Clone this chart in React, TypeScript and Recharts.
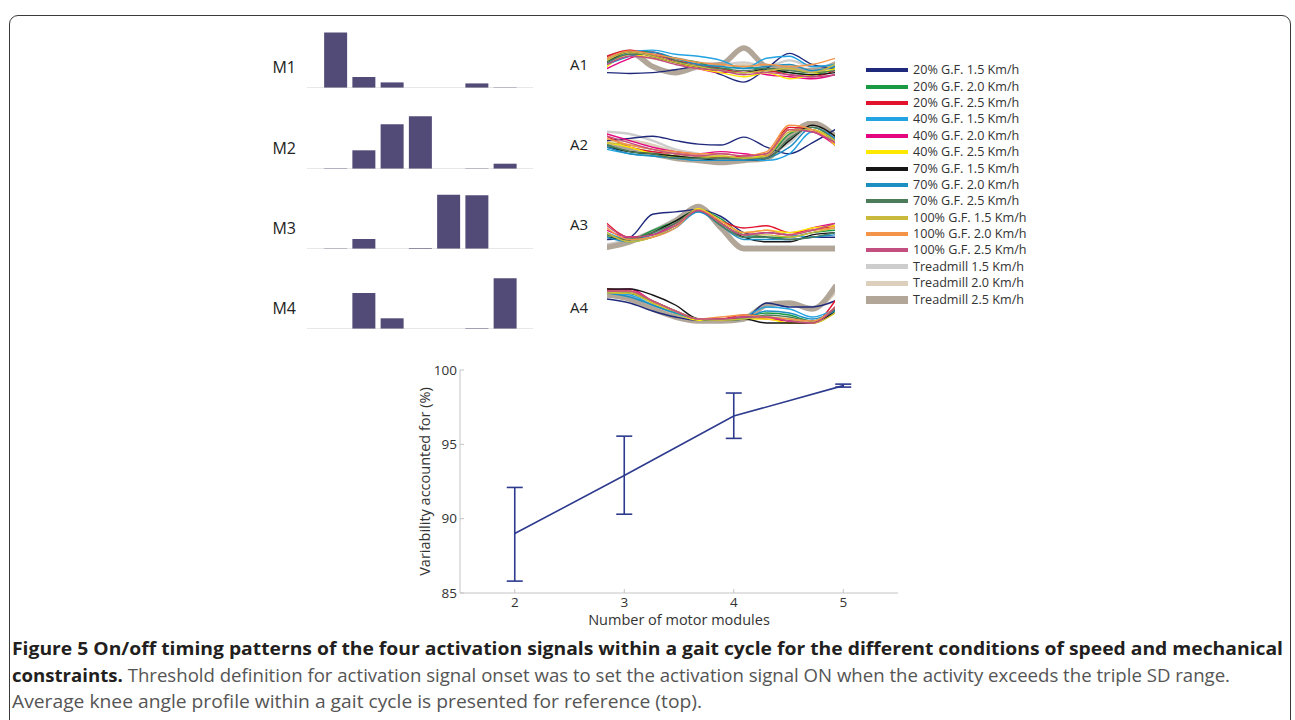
import React from 'react';
import {
  BarChart, Bar, LineChart, Line, XAxis, YAxis, ReferenceLine, ErrorBar,
} from 'recharts';

const FONT = '"Open Sans", "DejaVu Sans", sans-serif';

// motor module weights (one value per muscle, read as bar heights)
const MUSCLE_POS = [1, 2, 3, 4, 5, 6, 7];
const M1 = [55.6, 11, 5.6, 0, 0, 4.6, 0.5];
const M2 = [0.6, 18.7, 44.7, 52.7, 0, 0.5, 5.3];
const M3 = [0.5, 10, 0, 1, 54.3, 53.7, 0];
const M4 = [0, 36, 10.7, 0, 0, 0.8, 50.7];

// conditions
const CONDITIONS = [
  '20% G.F. 1.5 Km/h', '20% G.F. 2.0 Km/h', '20% G.F. 2.5 Km/h',
  '40% G.F. 1.5 Km/h', '40% G.F. 2.0 Km/h', '40% G.F. 2.5 Km/h',
  '70% G.F. 1.5 Km/h', '70% G.F. 2.0 Km/h', '70% G.F. 2.5 Km/h',
  '100% G.F. 1.5 Km/h', '100% G.F. 2.0 Km/h', '100% G.F. 2.5 Km/h',
  'Treadmill 1.5 Km/h', 'Treadmill 2.0 Km/h', 'Treadmill 2.5 Km/h',
];
const COLORS = [
  '#1f2a7c', '#1a9a42', '#e3122c', '#22a3e2', '#e4067f', '#fde800',
  '#161616', '#1d8ec2', '#4d7c5a', '#c9ba3e', '#f39448', '#c24f80',
  '#cdcdcd', '#dccfbb', '#b1a698',
];
const WIDTHS = [1.4, 1.4, 1.4, 1.4, 1.4, 1.4, 1.4, 1.4, 1.4, 1.4, 1.4, 1.4, 2.4, 2.8, 5.5];
const SWATCH_H = [4, 4, 4, 4, 4, 4, 4, 4, 4, 4, 4, 4, 5, 5, 8];

// gait cycle sample points (%)
const GAIT = [0, 10, 20, 30, 40, 50, 60, 70, 80, 90, 100];

const A1 = [
  [0.35, 0.33, 0.35, 0.42, 0.5, 0.3, 0.12, 0.45, 0.82, 0.55, 0.45],
  [0.6, 0.88, 0.85, 0.7, 0.6, 0.45, 0.5, 0.4, 0.35, 0.3, 0.45],
  [0.75, 0.9, 0.8, 0.65, 0.55, 0.45, 0.35, 0.4, 0.3, 0.25, 0.4],
  [0.55, 0.85, 0.9, 0.8, 0.75, 0.65, 0.45, 0.7, 0.75, 0.5, 0.55],
  [0.45, 0.7, 0.85, 0.6, 0.45, 0.35, 0.4, 0.3, 0.25, 0.2, 0.3],
  [0.5, 0.8, 0.7, 0.6, 0.45, 0.35, 0.25, 0.35, 0.2, 0.3, 0.45],
  [0.6, 0.85, 0.75, 0.6, 0.5, 0.4, 0.35, 0.45, 0.35, 0.3, 0.35],
  [0.55, 0.75, 0.85, 0.7, 0.55, 0.5, 0.45, 0.5, 0.55, 0.4, 0.5],
  [0.6, 0.8, 0.8, 0.65, 0.5, 0.45, 0.4, 0.45, 0.4, 0.35, 0.4],
  [0.65, 0.85, 0.75, 0.6, 0.5, 0.4, 0.35, 0.4, 0.45, 0.35, 0.55],
  [0.7, 0.88, 0.8, 0.7, 0.6, 0.55, 0.5, 0.55, 0.5, 0.55, 0.7],
  [0.55, 0.75, 0.7, 0.55, 0.45, 0.4, 0.3, 0.35, 0.3, 0.25, 0.3],
  [0.65, 0.85, 0.75, 0.7, 0.6, 0.55, 0.6, 0.5, 0.65, 0.5, 0.5],
  [0.7, 0.8, 0.7, 0.6, 0.55, 0.45, 0.55, 0.45, 0.5, 0.4, 0.6],
  [0.7, 0.85, 0.5, 0.35, 0.5, 0.55, 0.95, 0.5, 0.45, 0.4, 0.55],
];
const A2 = [
  [0.6, 0.65, 0.7, 0.6, 0.52, 0.5, 0.68, 0.45, 0.3, 0.55, 0.85],
  [0.5, 0.35, 0.3, 0.25, 0.2, 0.2, 0.2, 0.25, 0.75, 0.9, 0.6],
  [0.7, 0.45, 0.35, 0.3, 0.25, 0.2, 0.25, 0.3, 0.9, 0.85, 0.55],
  [0.4, 0.3, 0.25, 0.2, 0.15, 0.15, 0.15, 0.15, 0.3, 0.8, 0.6],
  [0.75, 0.6, 0.45, 0.35, 0.3, 0.35, 0.3, 0.25, 0.85, 0.8, 0.5],
  [0.55, 0.45, 0.3, 0.25, 0.2, 0.25, 0.2, 0.3, 0.85, 0.85, 0.5],
  [0.45, 0.35, 0.3, 0.25, 0.2, 0.15, 0.15, 0.2, 0.6, 0.95, 0.7],
  [0.45, 0.3, 0.25, 0.2, 0.15, 0.15, 0.15, 0.2, 0.45, 0.9, 0.65],
  [0.5, 0.35, 0.3, 0.2, 0.2, 0.2, 0.2, 0.2, 0.65, 0.9, 0.6],
  [0.55, 0.5, 0.4, 0.3, 0.25, 0.25, 0.2, 0.25, 0.8, 0.85, 0.6],
  [0.65, 0.5, 0.4, 0.35, 0.3, 0.3, 0.25, 0.35, 0.95, 0.85, 0.55],
  [0.7, 0.55, 0.4, 0.3, 0.25, 0.3, 0.25, 0.3, 0.85, 0.8, 0.55],
  [0.8, 0.75, 0.6, 0.4, 0.3, 0.2, 0.2, 0.25, 0.55, 0.95, 0.5],
  [0.6, 0.6, 0.5, 0.35, 0.25, 0.15, 0.2, 0.25, 0.7, 0.95, 0.6],
  [0.5, 0.4, 0.3, 0.2, 0.15, 0.1, 0.15, 0.2, 0.7, 1.0, 0.7],
];
const A3 = [
  [0.25, 0.3, 0.8, 0.85, 0.9, 0.75, 0.4, 0.3, 0.25, 0.3, 0.3],
  [0.35, 0.25, 0.45, 0.65, 0.9, 0.7, 0.35, 0.3, 0.3, 0.4, 0.45],
  [0.6, 0.3, 0.35, 0.55, 0.9, 0.65, 0.5, 0.55, 0.4, 0.45, 0.55],
  [0.4, 0.25, 0.35, 0.55, 0.85, 0.6, 0.3, 0.4, 0.35, 0.3, 0.4],
  [0.45, 0.3, 0.35, 0.6, 0.9, 0.6, 0.35, 0.4, 0.35, 0.5, 0.6],
  [0.35, 0.2, 0.3, 0.55, 0.92, 0.65, 0.4, 0.45, 0.4, 0.5, 0.55],
  [0.3, 0.25, 0.4, 0.65, 0.88, 0.6, 0.3, 0.2, 0.2, 0.35, 0.4],
  [0.3, 0.2, 0.3, 0.5, 0.85, 0.55, 0.25, 0.25, 0.25, 0.3, 0.35],
  [0.35, 0.25, 0.4, 0.6, 0.9, 0.55, 0.3, 0.3, 0.25, 0.3, 0.4],
  [0.4, 0.2, 0.3, 0.55, 0.9, 0.6, 0.35, 0.35, 0.3, 0.4, 0.5],
  [0.5, 0.25, 0.3, 0.5, 0.9, 0.65, 0.4, 0.45, 0.35, 0.45, 0.5],
  [0.55, 0.3, 0.35, 0.55, 0.88, 0.6, 0.35, 0.4, 0.35, 0.45, 0.6],
  [0.15, 0.25, 0.45, 0.7, 0.95, 0.55, 0.1, 0.1, 0.1, 0.1, 0.1],
  [0.12, 0.2, 0.4, 0.65, 0.95, 0.5, 0.08, 0.08, 0.08, 0.08, 0.08],
  [0.08, 0.2, 0.4, 0.65, 0.97, 0.5, 0.05, 0.05, 0.05, 0.05, 0.05],
];
const A4 = [
  [0.65, 0.55, 0.35, 0.2, 0.12, 0.12, 0.15, 0.55, 0.45, 0.45, 0.6],
  [0.85, 0.8, 0.55, 0.3, 0.15, 0.15, 0.2, 0.3, 0.25, 0.1, 0.35],
  [0.9, 0.85, 0.6, 0.35, 0.15, 0.15, 0.25, 0.2, 0.1, 0.05, 0.6],
  [0.8, 0.75, 0.5, 0.3, 0.15, 0.12, 0.2, 0.45, 0.4, 0.2, 0.4],
  [0.85, 0.9, 0.6, 0.35, 0.15, 0.12, 0.2, 0.15, 0.1, 0.05, 0.4],
  [0.8, 0.8, 0.55, 0.3, 0.12, 0.12, 0.15, 0.15, 0.05, 0.05, 0.3],
  [0.9, 0.9, 0.75, 0.5, 0.15, 0.12, 0.15, 0.05, 0.05, 0.05, 0.35],
  [0.8, 0.7, 0.5, 0.3, 0.15, 0.12, 0.15, 0.35, 0.3, 0.15, 0.35],
  [0.85, 0.8, 0.6, 0.35, 0.15, 0.12, 0.15, 0.25, 0.2, 0.1, 0.4],
  [0.8, 0.8, 0.55, 0.35, 0.15, 0.12, 0.15, 0.2, 0.15, 0.05, 0.3],
  [0.85, 0.85, 0.6, 0.35, 0.15, 0.2, 0.25, 0.2, 0.15, 0.1, 0.45],
  [0.85, 0.85, 0.6, 0.35, 0.15, 0.15, 0.2, 0.2, 0.1, 0.05, 0.45],
  [0.85, 0.75, 0.5, 0.3, 0.15, 0.12, 0.2, 0.5, 0.55, 0.45, 0.6],
  [0.8, 0.7, 0.45, 0.25, 0.12, 0.1, 0.2, 0.5, 0.55, 0.4, 0.8],
  [0.75, 0.65, 0.4, 0.2, 0.1, 0.1, 0.15, 0.5, 0.55, 0.4, 0.95],
];

// VAF vs number of modules
const MODULES = [2, 3, 4, 5];
const VAF_MEAN = [89, 92.9, 96.9, 98.95];
const VAF_LOW = [85.8, 90.3, 95.4, 98.85];
const VAF_HIGH = [92.1, 95.55, 98.45, 99.05];

const DRAW_ORDER = [12, 13, 14, 0, 1, 2, 3, 4, 5, 6, 7, 8, 9, 10, 11];

function ModuleBars({ label, values, baseline }: { label: string; values: number[]; baseline: number }) {
  const data = MUSCLE_POS.map((x, i) => ({ x, w: values[i] }));
  return (
    <>
      <div style={{ position: 'absolute', left: 256, width: 40, top: baseline - 32, textAlign: 'right', fontSize: 16, color: '#222', fontFamily: FONT }}>{label}</div>
      <div style={{ position: 'absolute', left: 307, top: baseline - 62 }}>
        <BarChart width={226} height={62} data={data} margin={{ top: 0, right: 0, bottom: 0, left: 0 }}>
          <XAxis dataKey="x" type="number" domain={[0, 8]} hide />
          <YAxis domain={[0, 62]} hide />
          <ReferenceLine y={0} stroke="#cfcfcf" strokeWidth={1.2} />
          <Bar dataKey="w" fill="#534b77" barSize={23} isAnimationActive={false} />
        </BarChart>
      </div>
    </>
  );
}

function ActivationPanel({ label, values, top, height, labelY }: { label: string; values: number[][]; top: number; height: number; labelY: number }) {
  const data = GAIT.map((g, i) => {
    const row: any = { g };
    values.forEach((s, k) => { row['s' + k] = s[i]; });
    return row;
  });
  return (
    <>
      <div style={{ position: 'absolute', left: 556, width: 32, top: labelY - 11, textAlign: 'right', fontSize: 15, color: '#222', fontFamily: FONT }}>{label}</div>
      <div style={{ position: 'absolute', left: 607, top }}>
        <LineChart width={228} height={height} data={data} margin={{ top: 2, right: 0, bottom: 2, left: 0 }}>
          <XAxis dataKey="g" type="number" domain={[0, 100]} hide />
          <YAxis domain={[0, 1]} hide />
          {DRAW_ORDER.map(k => (
            <Line key={k} dataKey={'s' + k} type="monotone" stroke={COLORS[k]} strokeWidth={WIDTHS[k]}
              dot={false} isAnimationActive={false} strokeLinecap="round" />
          ))}
        </LineChart>
      </div>
    </>
  );
}

export default function App() {
  const vafData = MODULES.map((n, i) => ({
    n, mean: VAF_MEAN[i], err: [VAF_MEAN[i] - VAF_LOW[i], VAF_HIGH[i] - VAF_MEAN[i]],
  }));
  const frame = '#c4c4c4';
  return (
    <div style={{ position: 'absolute', left: 0, top: 0, width: 1295, height: 720, overflow: 'hidden', background: '#fff', fontFamily: FONT }}>
      <div style={{ position: 'absolute', left: 9, top: 15, width: 1282, height: 760, border: '1.6px solid #3a3a3a', borderRadius: 9, boxSizing: 'border-box' }} />

      <ModuleBars label="M1" values={M1} baseline={88} />
      <ModuleBars label="M2" values={M2} baseline={169} />
      <ModuleBars label="M3" values={M3} baseline={249} />
      <ModuleBars label="M4" values={M4} baseline={329} />

      <ActivationPanel label="A1" values={A1} top={44} height={45} labelY={65} />
      <ActivationPanel label="A2" values={A2} top={121} height={48} labelY={145} />
      <ActivationPanel label="A3" values={A3} top={203} height={50} labelY={225} />
      <ActivationPanel label="A4" values={A4} top={283} height={44} labelY={308} />

      <div style={{ position: 'absolute', left: 866, top: 62 }}>
        {CONDITIONS.map((c, i) => (
          <div key={c} style={{ display: 'flex', alignItems: 'center', height: 16.4 }}>
            <div style={{ width: 42, height: SWATCH_H[i], background: COLORS[i], marginRight: 5 }} />
            <span style={{ fontSize: 12.6, color: '#333', fontFamily: FONT, lineHeight: '16px' }}>{c}</span>
          </div>
        ))}
      </div>

      <div style={{ position: 'absolute', left: 390, top: 355 }}>
        <LineChart width={520} height={280} data={vafData} margin={{ top: 15, right: 12, bottom: 10, left: 10 }}>
          <XAxis dataKey="n" type="number" domain={[1.5, 5.5]} ticks={MODULES} stroke={frame}
            tick={{ fill: '#333', fontSize: 13.5, fontFamily: FONT }} tickSize={-4} tickMargin={8} height={32}
            label={{ value: 'Number of motor modules', position: 'insideBottom', offset: 0, fill: '#333', fontSize: 14.5, fontFamily: FONT }} />
          <XAxis xAxisId="top" orientation="top" dataKey="n" type="number" domain={[1.5, 5.5]} tick={false} tickLine={false} height={0} stroke={frame} />
          <YAxis domain={[85, 100]} ticks={[85, 90, 95, 100]} stroke={frame} width={60} tickSize={-4} tickMargin={7}
            tick={{ fill: '#333', fontSize: 13.5, fontFamily: FONT }}
            label={{ value: 'Variability accounted for (%)', angle: -90, position: 'insideLeft', offset: 25, fill: '#333', fontSize: 14.5, fontFamily: FONT, style: { textAnchor: 'middle' } }} />
          <YAxis yAxisId="right" orientation="right" domain={[85, 100]} tick={false} tickLine={false} width={0} stroke={frame} />
          <Line dataKey="mean" stroke="#2d3a8e" strokeWidth={1.6} dot={false} isAnimationActive={false}>
            <ErrorBar dataKey="err" direction="y" width={8} stroke="#2d3a8e" strokeWidth={1.6} />
          </Line>
        </LineChart>
      </div>

      <svg width={1295} height={90} style={{ position: 'absolute', left: 0, top: 630 }}>
        <text x={12} y={25} fontSize={18} fontFamily={FONT} fontWeight="bold" fill="#231f20" textLength={1271} lengthAdjust="spacingAndGlyphs">
          Figure 5 On/off timing patterns of the four activation signals within a gait cycle for the different conditions of speed and mechanical
        </text>
        <text x={12} y={52} fontSize={18} fontFamily={FONT} fill="#555" textLength={1218} lengthAdjust="spacingAndGlyphs">
          <tspan fontWeight="bold" fill="#231f20">constraints.</tspan> Threshold definition for activation signal onset was to set the activation signal ON when the activity exceeds the triple SD range.
        </text>
        <text x={12} y={78} fontSize={18} fontFamily={FONT} fill="#555" textLength={690} lengthAdjust="spacingAndGlyphs">
          Average knee angle profile within a gait cycle is presented for reference (top).
        </text>
      </svg>
    </div>
  );
}
